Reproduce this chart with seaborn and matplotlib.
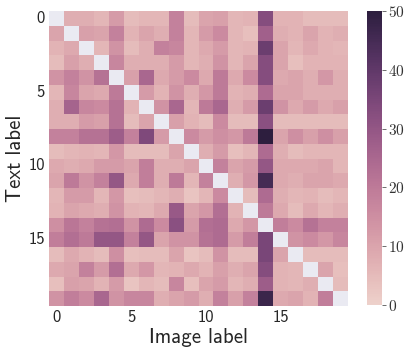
import numpy as np
import pandas as pd
import matplotlib
matplotlib.use("Agg")
import matplotlib.pyplot as plt
import seaborn as sns

# confusion counts, rows = text label, cols = image label (diagonal left empty)
row00 = [0, 8, 8, 6, 12, 5, 6, 6, 18, 5, 10, 11, 6, 7, 33, 7, 7, 5, 5, 5]
row01 = [10, 0, 11, 10, 18, 7, 10, 8, 18, 6, 12, 16, 6, 4, 27, 8, 7, 10, 7, 8]
row02 = [7, 9, 0, 6, 14, 5, 8, 18, 17, 6, 9, 12, 6, 7, 38, 10, 6, 9, 7, 6]
row03 = [5, 11, 8, 0, 17, 8, 8, 8, 12, 6, 8, 14, 6, 10, 33, 10, 4, 7, 7, 7]
row04 = [14, 18, 14, 22, 0, 11, 25, 9, 12, 16, 9, 20, 9, 16, 33, 9, 10, 8, 13, 8]
row05 = [6, 17, 10, 9, 20, 0, 12, 7, 14, 8, 13, 20, 7, 8, 24, 10, 10, 8, 8, 8]
row06 = [8, 26, 17, 16, 22, 7, 0, 14, 25, 6, 20, 25, 8, 12, 38, 14, 9, 12, 9, 11]
row07 = [8, 8, 12, 11, 22, 5, 10, 0, 11, 7, 5, 16, 5, 5, 32, 5, 5, 5, 5, 5]
row08 = [18, 18, 22, 22, 28, 18, 34, 12, 0, 16, 12, 15, 13, 20, 50, 10, 15, 11, 15, 11]
row09 = [5, 6, 7, 6, 13, 5, 5, 5, 10, 0, 8, 12, 4, 6, 24, 8, 5, 6, 6, 6]
row10 = [9, 8, 9, 12, 12, 10, 19, 8, 8, 10, 0, 18, 10, 12, 30, 9, 9, 9, 10, 6]
row11 = [10, 20, 14, 18, 30, 9, 19, 8, 20, 6, 18, 0, 8, 13, 45, 9, 8, 10, 10, 9]
row12 = [6, 12, 12, 6, 13, 4, 5, 6, 8, 3, 6, 16, 0, 5, 24, 8, 6, 7, 5, 6]
row13 = [7, 10, 9, 8, 14, 7, 6, 9, 29, 10, 13, 23, 7, 0, 20, 9, 5, 9, 6, 8]
row14 = [15, 21, 18, 22, 23, 14, 24, 16, 32, 12, 23, 24, 9, 13, 0, 19, 16, 22, 18, 18]
row15 = [19, 23, 20, 30, 30, 18, 30, 10, 14, 14, 22, 24, 12, 19, 35, 0, 14, 16, 13, 17]
row16 = [5, 9, 7, 5, 15, 4, 5, 5, 10, 3, 5, 14, 5, 5, 35, 10, 0, 5, 5, 5]
row17 = [9, 10, 18, 12, 23, 9, 13, 6, 7, 9, 7, 11, 8, 10, 33, 7, 6, 0, 10, 4]
row18 = [4, 11, 10, 7, 12, 3, 6, 5, 17, 4, 10, 12, 6, 8, 28, 7, 6, 8, 0, 5]
row19 = [14, 19, 16, 25, 14, 17, 17, 8, 10, 12, 8, 18, 11, 18, 47, 9, 10, 7, 19, 0]

rows = [row00, row01, row02, row03, row04, row05, row06, row07, row08, row09,
        row10, row11, row12, row13, row14, row15, row16, row17, row18, row19]
labels = list(range(20))

df = pd.DataFrame(rows, index=labels, columns=labels)
mask = np.eye(20, dtype=bool)

sns.set_style("darkgrid")
plt.rcParams["font.family"] = ["cmss10", "DejaVu Sans"]
plt.rcParams["axes.formatter.use_mathtext"] = True

fig = plt.figure(figsize=(4.15, 3.56), dpi=100)
ax = fig.add_axes([49 / 415, 1 - 306 / 356, 299 / 415, 295 / 356])
cax = fig.add_axes([367 / 415, 1 - 305 / 356, 15 / 415, 294 / 356])

cmap = sns.cubehelix_palette(as_cmap=True)
sns.heatmap(df, mask=mask, cmap=cmap, vmin=0, vmax=50, ax=ax, cbar_ax=cax,
            xticklabels=5, yticklabels=5)
ax.grid(False)
ax.set_xlabel("Image label", fontsize=15, labelpad=2)
ax.set_ylabel("Text label", fontsize=15, labelpad=2)
ax.tick_params(axis="both", labelsize=12, length=0, pad=3)
ax.set_yticklabels(ax.get_yticklabels(), rotation=0)
ax.set_xticklabels(ax.get_xticklabels(), rotation=0)

cax.set_yticks([0, 10, 20, 30, 40, 50])
cax.tick_params(length=3, width=0.6, color="#555555", labelsize=11, pad=1)
for t in cax.get_yticklabels():
    t.set_family("cmr10")
    t.set_color("#333333")

fig.savefig("out.png", dpi=100)
